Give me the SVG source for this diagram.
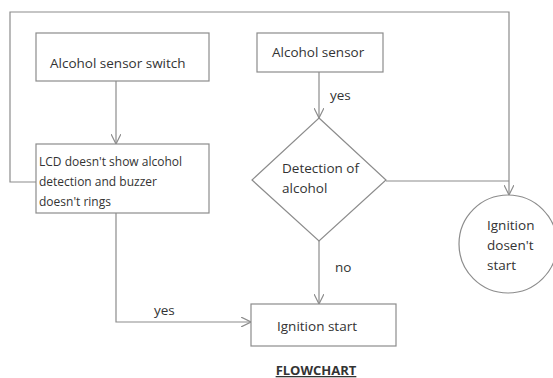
<svg xmlns="http://www.w3.org/2000/svg" width="553" height="378" viewBox="0 0 553 378">
<style>
.box{fill:#fff;stroke:#8c8c8c;stroke-width:1.2}
.ln{fill:none;stroke:#8c8c8c;stroke-width:1.2}
text{font-family:"Open Sans","Liberation Sans",sans-serif;font-size:13.5px;fill:#333}
.sm{font-size:12px}
</style>
<defs>
<marker id="arr" viewBox="0 0 10 10" refX="10" refY="5" markerWidth="10" markerHeight="10" markerUnits="userSpaceOnUse" orient="auto">
<path d="M0,0 L10,5 L0,10" fill="none" stroke="#8c8c8c" stroke-width="1.2"/>
</marker>
</defs>
<rect width="553" height="378" fill="#fff"/>
<g id="connectors">
<line class="ln" x1="116" y1="81" x2="116" y2="144" marker-end="url(#arr)"/>
<line class="ln" x1="319" y1="72" x2="319" y2="118" marker-end="url(#arr)"/>
<polyline class="ln" points="36,182 10,182 10,12 509,12 509,195" marker-end="url(#arr)"/>
<line class="ln" x1="386" y1="181" x2="509" y2="181"/>
<line class="ln" x1="319" y1="241" x2="319" y2="304" marker-end="url(#arr)"/>
<polyline class="ln" points="116,213 116,322 251,322" marker-end="url(#arr)"/>
<text x="330" y="100">yes</text>
<text x="335" y="272">no</text>
<text x="154" y="315">yes</text>
</g>
<g id="switch">
<rect class="box" x="36" y="33" width="173" height="48"/>
<text x="50" y="68">Alcohol sensor switch</text>
</g>
<g id="lcd">
<rect class="box" x="36" y="144" width="173" height="69"/>
<text class="sm" x="39" y="166">LCD doesn't show alcohol</text>
<text class="sm" x="39" y="186">detection and buzzer</text>
<text class="sm" x="39" y="206">doesn't rings</text>
</g>
<g id="sensor">
<rect class="box" x="257" y="33" width="126" height="39"/>
<text x="272" y="57">Alcohol sensor</text>
</g>
<g id="detection">
<polygon class="box" points="319,118 386,180 319,241 252,180"/>
<text x="282" y="173">Detection of</text>
<text x="282" y="193">alcohol</text>
</g>
<g id="nostart">
<circle class="box" cx="508" cy="244" r="49"/>
<text x="487" y="230">Ignition</text>
<text x="487" y="250">dosen't</text>
<text x="487" y="270">start</text>
</g>
<g id="start">
<rect class="box" x="251" y="304" width="145" height="42"/>
<text x="277" y="331">Ignition start</text>
</g>
<g id="title">
<text x="316" y="375" text-anchor="middle" style="font-weight:bold;font-size:13px;text-decoration:underline">FLOWCHART</text>
</g>
</svg>
